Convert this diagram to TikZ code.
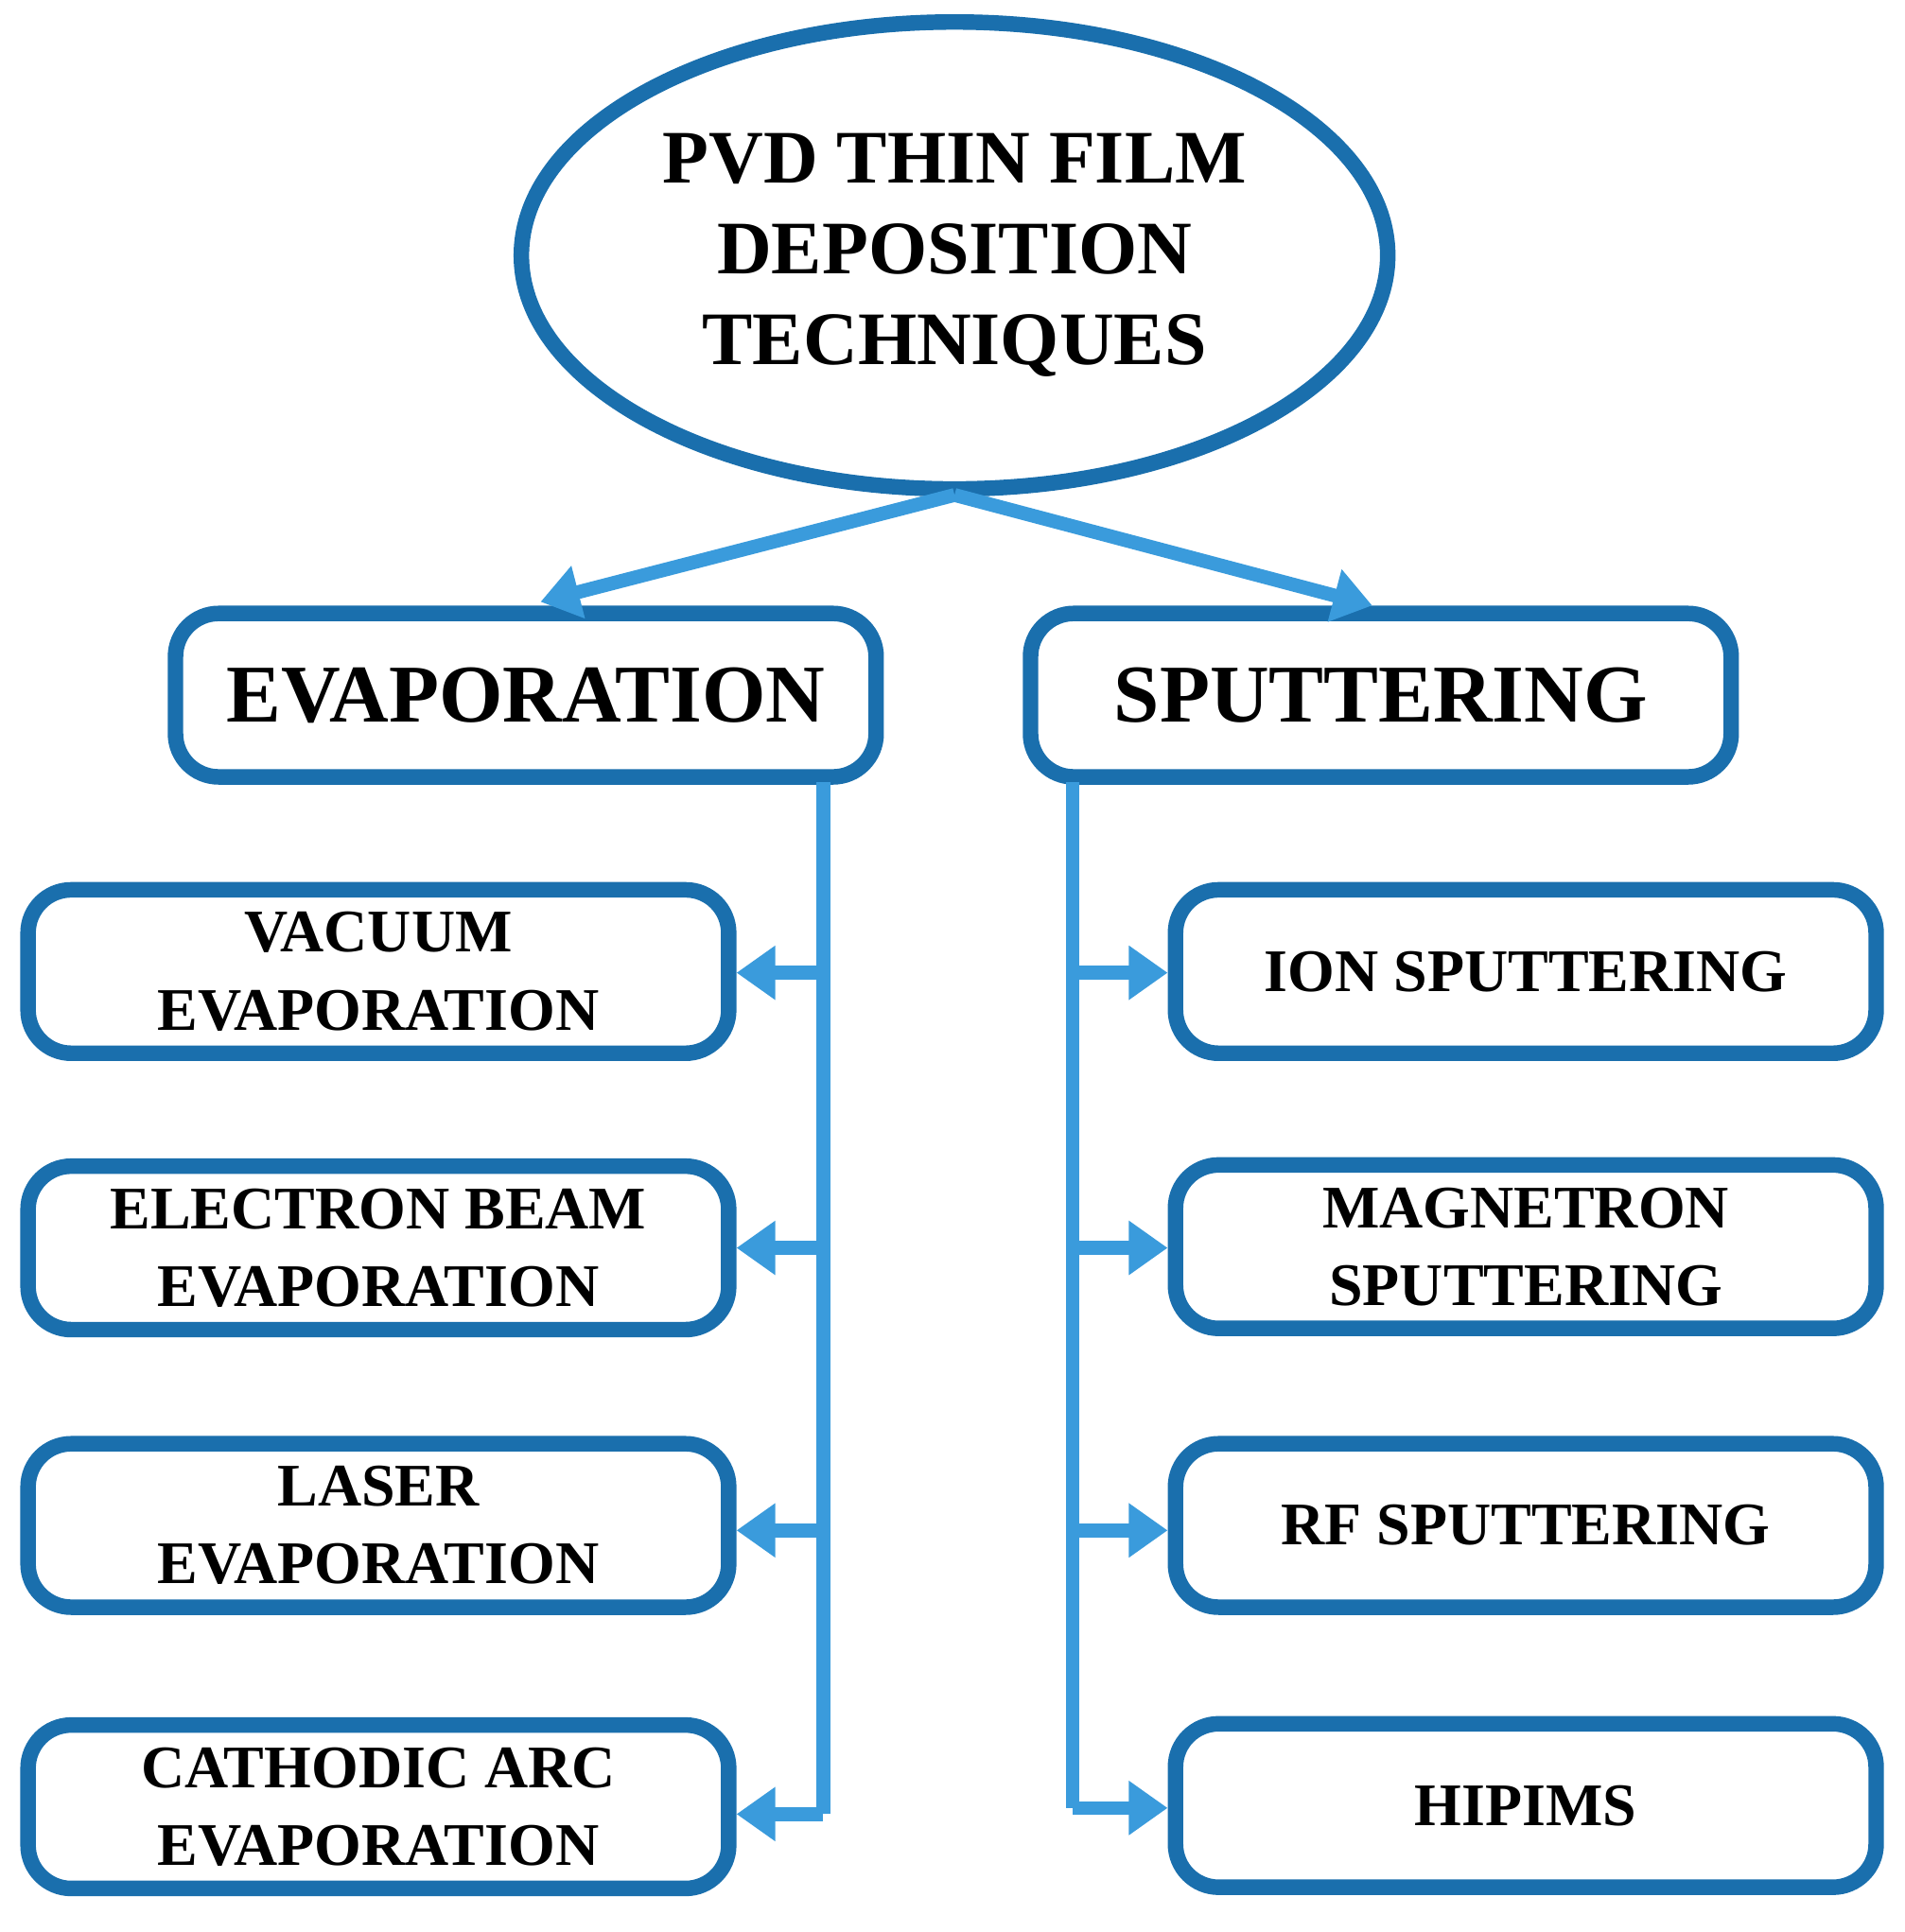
\documentclass[tikz,border=0pt]{standalone}
\usepackage{fontspec}
\setmainfont{Liberation Serif}
\usetikzlibrary{shapes.geometric,arrows.meta}
\definecolor{dk}{HTML}{1A6FAD}
\definecolor{lt}{HTML}{3A9BDC}
\tikzset{
 box/.style={draw=dk,line width=3.6pt,rounded corners=10pt,align=center,font=\bfseries\fontsize{14}{18}\selectfont,minimum width=5.7cm,minimum height=1.33cm},
 big/.style={box,font=\bfseries\fontsize{19}{23}\selectfont},
 con/.style={draw=lt,line width=3.2pt},
 arr/.style={con,-{Triangle[length=9pt,width=12pt]}}
}
\begin{document}
\begin{tikzpicture}[x=0.01cm,y=-0.01cm]
\useasboundingbox (0,0) rectangle (1550,1573);
\node[ellipse,draw=dk,line width=3.6pt,minimum width=6.95cm,minimum height=3.8cm,align=center,font=\bfseries\fontsize{17.5}{21}\selectfont] (top) at (777,208) {PVD THIN FILM\\DEPOSITION\\TECHNIQUES};
\node[big] (ev) at (428,566) {EVAPORATION};
\node[big] (sp) at (1124,566) {SPUTTERING};
\foreach \n/\y/\t in {l1/791/{VACUUM\\EVAPORATION},l2/1016/{ELECTRON BEAM\\EVAPORATION},l3/1242/{LASER\\EVAPORATION},l4/1471/{CATHODIC ARC\\EVAPORATION}}
 \node[box] (\n) at (308,\y) {\t};
\foreach \n/\y/\t in {r1/791/{ION SPUTTERING},r2/1015/{MAGNETRON\\SPUTTERING},r3/1242/{RF SPUTTERING},r4/1470/{HIPIMS}}
 \node[box] (\n) at (1242,\y) {\t};
\coordinate (tb) at (777,403);
\draw[arr] (tb) -- (440,490);
\draw[arr] (tb) -- (1117,493);
\coordinate (lt0) at (670,637); \coordinate (lt1) at (670,1477);
\draw[con] (lt0) -- (lt1);
\coordinate (rt0) at (873,637); \coordinate (rt1) at (873,1472);
\draw[con] (rt0) -- (rt1);
\foreach \y in {792,1016,1246} \draw[arr] (670,\y) -- (l1.east |- 0,\y);
\draw[arr] (lt1) -- (l4.east |- lt1);
\foreach \y in {792,1016,1246} \draw[arr] (873,\y) -- (r1.west |- 0,\y);
\draw[arr] (rt1) -- (r4.west |- rt1);
\end{tikzpicture}
\end{document}
